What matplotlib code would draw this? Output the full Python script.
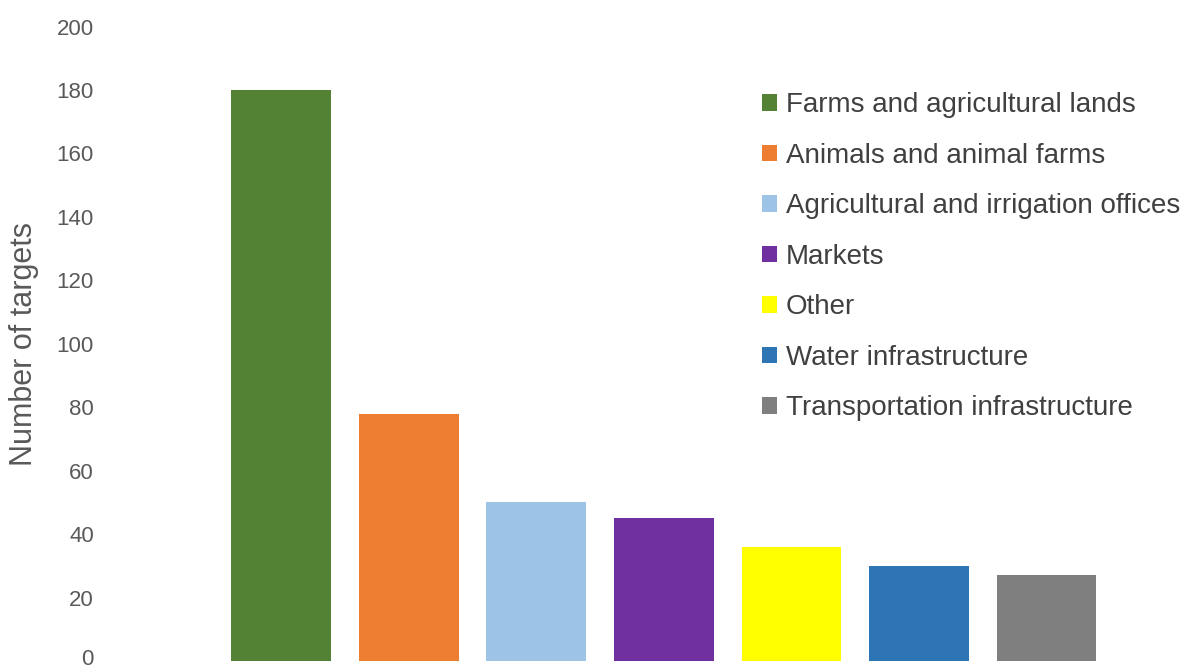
import matplotlib
matplotlib.use('Agg')
import matplotlib.pyplot as plt
import matplotlib.transforms as mtransforms

# Data
categories = ['Farms and agricultural lands', 'Animals and animal farms',
              'Agricultural and irrigation offices', 'Markets', 'Other',
              'Water infrastructure', 'Transportation infrastructure']
targets = [180, 78, 50, 45, 36, 30, 27]
colors = ['#548235', '#ED7D31', '#9DC3E6', '#7030A0', '#FFFF00', '#2E75B6', '#7F7F7F']
yticks = [0, 20, 40, 60, 80, 100, 120, 140, 160, 180, 200]

plt.rcParams['font.family'] = ['Liberation Sans', 'DejaVu Sans']

W, H = 1194, 670
fig = plt.figure(figsize=(W / 100, H / 100), dpi=100)
# axes placement in pixels: left 105, right 1110, bottom 661, top 26.6
ax = fig.add_axes([105 / W, (H - 661) / H, (1110 - 105) / W, (661 - 26.6) / H])

x = range(len(categories))
bars = ax.bar(x, targets, width=0.784, color=colors, label=categories)

ax.set_xlim(-1.384, 6.498)
ax.set_ylim(0, 200)
ax.set_yticks(yticks)
ax.set_xticks([])
ax.tick_params(axis='y', length=0, pad=8, labelsize=16, labelcolor='#595959')
for s in ax.spines.values():
    s.set_visible(False)

# nudge the "0" label up a little so it is not cut at the bottom edge
lbl0 = ax.get_yticklabels()[0]
lbl0.set_transform(lbl0.get_transform() +
                   mtransforms.ScaledTranslation(0, 4 / 100, fig.dpi_scale_trans))

ax.set_ylabel('Number of targets', fontsize=22, color='#595959')
ax.yaxis.set_label_coords((39 - 105) / (1110 - 105), 0.5)

handles = [b for b in bars]
leg = fig.legend(handles, categories, loc='upper left',
                 bbox_to_anchor=(762 / W, (H - 92.5) / H),
                 frameon=False, fontsize=20, borderpad=0, borderaxespad=0,
                 handlelength=0.55, handleheight=0.55, handletextpad=0.3,
                 labelspacing=0.88)
for t in leg.get_texts():
    t.set_color('#404040')

fig.savefig('out.png', dpi=100)
